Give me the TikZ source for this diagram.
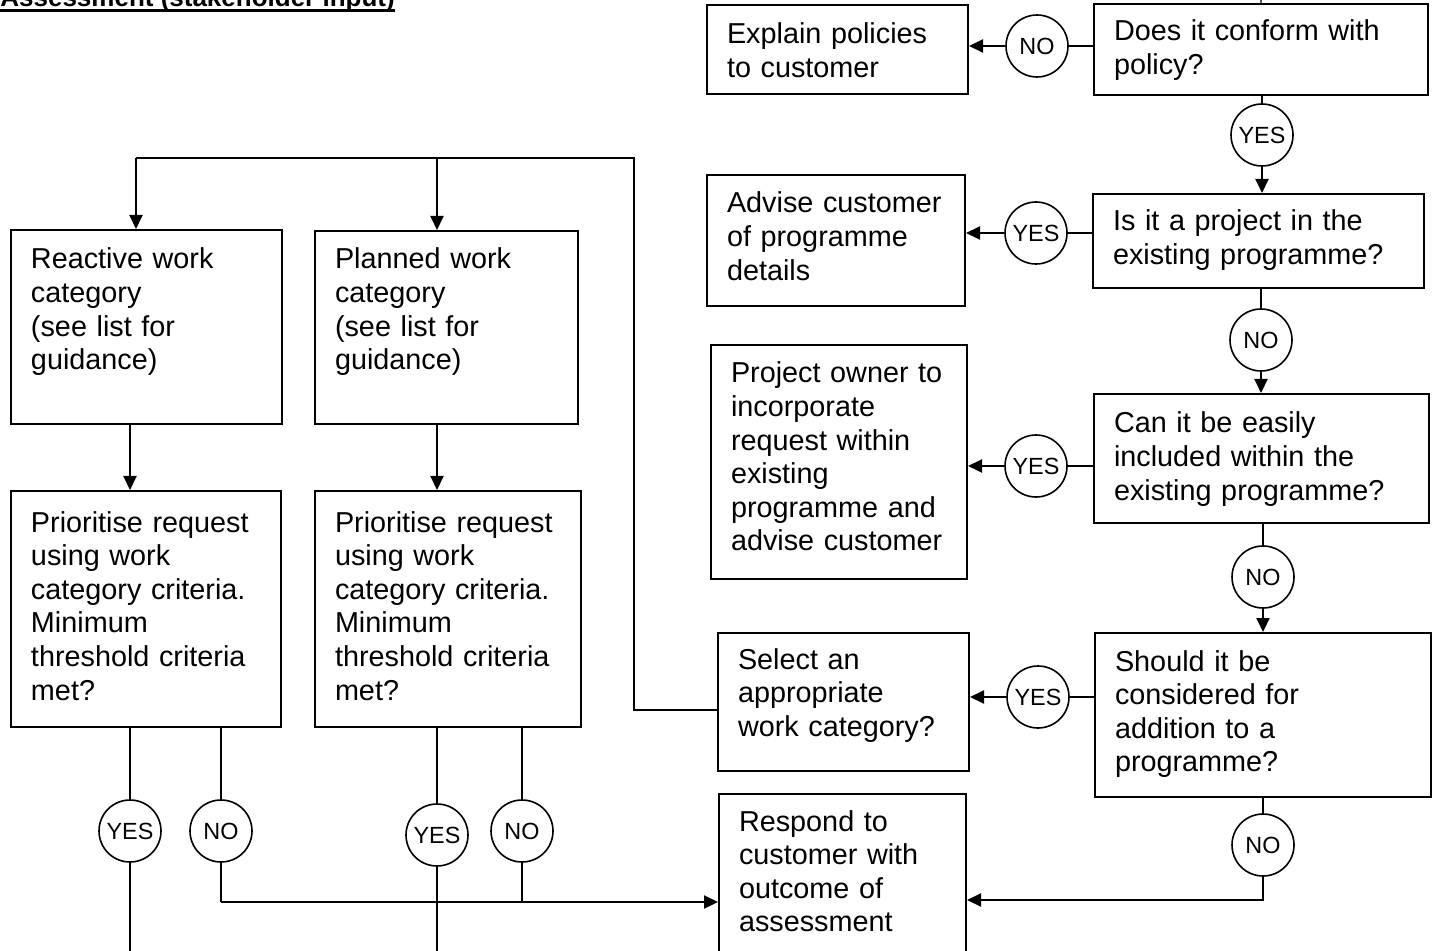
\documentclass[tikz,border=0pt]{standalone}
\usepackage{fontspec}
\setmainfont{Liberation Sans}
\usetikzlibrary{arrows.meta, positioning}

\begin{document}
\begin{tikzpicture}[>={Triangle[length=7pt,width=6.5pt]}, x=.5pt, y=-.5pt,
  font=\fontsize{14.4}{16.8}\selectfont,
  stepbox/.style={draw, line width=1pt, anchor=north west, align=left, inner xsep=10pt, inner ysep=0pt},
  answer/.style={draw, circle, line width=.8pt, minimum size=31pt, inner sep=0pt, font=\fontsize{11.7}{13}\selectfont},
  flow/.style={line width=1pt}]
\useasboundingbox (0,0) rectangle (1439,951);
\clip (0,0) rectangle (1439,951);
%
\node[anchor=base west, inner sep=0pt, font=\fontsize{13}{15}\selectfont\bfseries] (title) at (0,7) {Assessment (stakeholder input)};
\draw[line width=1.5pt] ([yshift=-2pt]title.base west) -- ([yshift=-2pt]title.base east);
%
\node[stepbox, text width=147pt, text height=18.5pt, text depth=27pt] (conform) at (1093,3) {Does it conform with\\policy?};
\node[stepbox, text width=145.5pt, text height=18.5pt, text depth=28.5pt] (inprog) at (1092,193) {Is it a project in the\\existing programme?};
\node[stepbox, text width=147.5pt, text height=19.5pt, text depth=45pt] (include) at (1093,393) {Can it be easily\\included within the\\existing programme?};
\node[stepbox, text width=148pt, text height=19pt, text depth=63pt] (consider) at (1094,632) {Should it be\\considered for\\addition to a\\programme?};
%
\node[stepbox, text width=110.5pt, text height=19.5pt, text depth=25pt] (explain) at (706,4) {Explain policies\\to customer};
\node[stepbox, text width=109pt, text height=19pt, text depth=46.5pt] (advise) at (706,174) {Advise customer\\of programme\\details};
\node[stepbox, text width=108pt, text height=19pt, text depth=98pt] (owner) at (710,344) {Project owner to\\incorporate\\request within\\existing\\programme and\\advise customer};
\node[stepbox, text width=105.5pt, text height=18pt, text depth=51pt] (select) at (717,632) {Select an\\appropriate\\work category?};
\node[stepbox, text width=103.5pt, text height=18.5pt, text depth=72.5pt] (respond) at (718,793) {Respond to\\customer with\\outcome of\\assessment};
%
\node[stepbox, text width=115.5pt, text height=19.5pt, text depth=77.5pt] (reactive) at (10,229) {Reactive work\\category\\(see list for\\guidance)};
\node[stepbox, text width=111.5pt, text height=19pt, text depth=77.5pt] (planned) at (314,230) {Planned work\\category\\(see list for\\guidance)};
\node[stepbox, text width=115pt, text height=20.5pt, text depth=97.5pt] (prioL) at (10,490) {Prioritise request\\using work\\category criteria.\\Minimum\\threshold criteria\\met?};
\node[stepbox, text width=113pt, text height=20.5pt, text depth=97.5pt] (prioR) at (314,490) {Prioritise request\\using work\\category criteria.\\Minimum\\threshold criteria\\met?};
%
\node[answer] (no1) at (1037,46) {NO};
\node[answer] (yes1) at (1262,135) {YES};
\node[answer] (yes2) at (1036,233) {YES};
\node[answer] (no2) at (1261,340) {NO};
\node[answer] (yes3) at (1036,466) {YES};
\node[answer] (no3) at (1263,577) {NO};
\node[answer] (yes4) at (1038,697) {YES};
\node[answer] (no4) at (1263,845) {NO};
\node[answer] (yesR) at (130,831) {YES};
\node[answer] (noR) at (221,831) {NO};
\node[answer] (yesP) at (437,835) {YES};
\node[answer] (noP) at (522,831) {NO};
%
\coordinate (fromAbove) at (1260,-30);
\coordinate (loop) at (634,158);
\coordinate (toReact) at (136,158);
\coordinate (toPlan) at (437,158);
\coordinate (backL) at (0,902);
\coordinate (backR) at (0,900);
\coordinate (offpage) at (0,980);
%
\draw[line width=.6pt] (fromAbove) -- (conform.north);
\draw[flow] (conform.west |- no1) -- (no1);
\draw[flow, ->] (no1) -- (no1 -| explain.east);
\draw[flow] (conform.south -| yes1) -- (yes1);
\draw[flow, ->] (yes1) -- (yes1 |- inprog.north);
\draw[flow] (inprog.west |- yes2) -- (yes2);
\draw[flow, ->] (yes2) -- (yes2 -| advise.east);
\draw[flow] (inprog.south -| no2) -- (no2);
\draw[flow, ->] (no2) -- (no2 |- include.north);
\draw[flow] (include.west |- yes3) -- (yes3);
\draw[flow, ->] (yes3) -- (yes3 -| owner.east);
\draw[flow] (include.south -| no3) -- (no3);
\draw[flow, ->] (no3) -- (no3 |- consider.north);
\draw[flow] (consider.west |- yes4) -- (yes4);
\draw[flow, ->] (yes4) -- (yes4 -| select.east);
\draw[flow] (consider.south -| no4) -- (no4);
\draw[flow, ->] (no4) |- (backR -| respond.east);
%
\draw[flow] ([yshift=-4pt]select.west) -| (loop) -- (toReact);
\draw[flow, ->] (toReact) -- (toReact |- reactive.north);
\draw[flow, ->] (toPlan) -- (toPlan |- planned.north);
\draw[flow, ->] (reactive.south -| yesR) -- (yesR |- prioL.north);
\draw[flow, ->] (planned.south -| yesP) -- (yesP |- prioR.north);
%
\draw[flow] (prioL.south -| yesR) -- (yesR);
\draw[flow] (yesR) -- (yesR |- offpage);
\draw[flow] (prioL.south -| noR) -- (noR);
\draw[flow] (noR) -- (noR |- backL);
\draw[flow] (prioR.south -| yesP) -- (yesP);
\draw[flow] (yesP) -- (yesP |- offpage);
\draw[flow] (prioR.south -| noP) -- (noP);
\draw[flow] (noP) -- (noP |- backL);
\draw[flow, ->] (noR |- backL) -- (backL -| respond.west);
\end{tikzpicture}
\end{document}
